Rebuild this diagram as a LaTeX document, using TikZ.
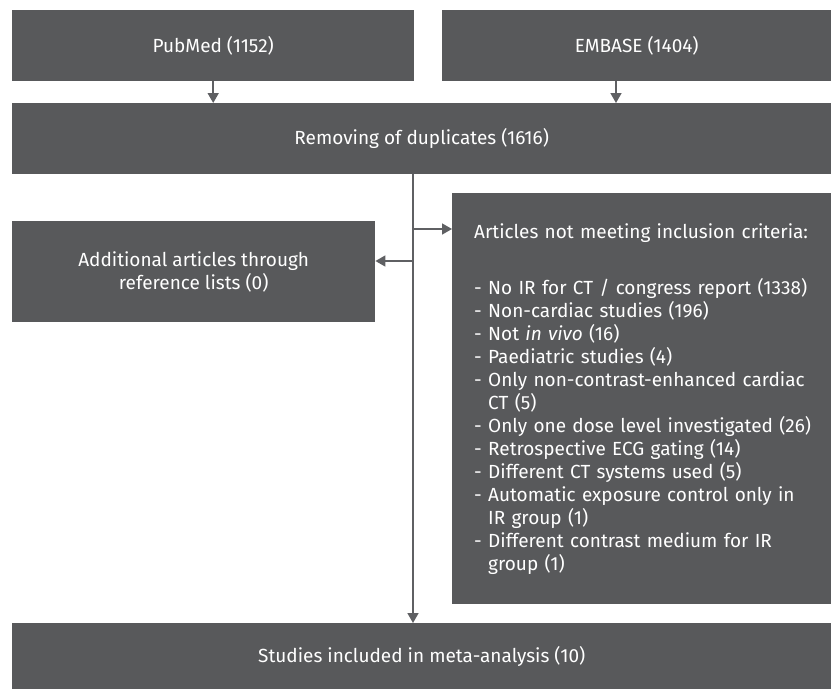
\documentclass[tikz,border=0pt]{standalone}
\usepackage{fontspec}
\setmainfont{Fira Sans}
\usepackage{tikz}
\usetikzlibrary{arrows.meta}
\definecolor{boxgray}{HTML}{58595B}
\definecolor{linegray}{HTML}{5F6063}

\begin{document}
\begin{tikzpicture}[x = 1pt, y = -1pt,
    box/.style = {fill = boxgray, text = white, inner sep = 0pt, anchor = north west, font = \fontsize{19}{23}\selectfont},
    flow/.style = {draw = linegray, line width = 1.6pt, -{Triangle[length = 10pt, width = 11pt]}}]
      \useasboundingbox (0,0) rectangle (831,689);
      \node[box, minimum width = 402pt, minimum height = 71pt] (pubmed) at (12,10) {PubMed (1152)};
      \node[box, minimum width = 389pt, minimum height = 71pt] (embase) at (442,10) {EMBASE (1404)};
      \node[box, minimum width = 819pt, minimum height = 71pt] (dupl) at (12,103) {Removing of duplicates (1616)};
      \node[box, minimum width = 363pt, minimum height = 101pt, align = center] (addl) at (12,221)
        {Additional articles through\\ reference lists (0)};
      \node[box, minimum width = 379pt, minimum height = 411pt, text width = 357pt, inner xsep = 22pt, align = left] (excl) at (452,193)
        {Articles not meeting inclusion criteria:\\[33pt]
         - No IR for CT / congress report (1338)\\
         - Non-cardiac studies (196)\\
         - Not \textit{in vivo} (16)\\
         - Paediatric studies (4)\\
         - Only non-contrast-enhanced cardiac\\
         \hphantom{-}\ CT (5)\\
         - Only one dose level investigated (26)\\
         - Retrospective ECG gating (14)\\
         - Different CT systems used (5)\\
         - Automatic exposure control only in\\
         \hphantom{-}\ IR group (1)\\
         - Different contrast medium for IR\\
         \hphantom{-}\ group (1)};
      \node[box, minimum width = 819pt, minimum height = 66pt] (final) at (12,623) {Studies included in meta-analysis (10)};
      \coordinate (split) at (413,229);
      \coordinate (back) at (413,261);
      \coordinate (emb) at (616,81);
      \draw[flow] (pubmed.south) -- (pubmed.south |- dupl.north);
      \draw[flow] (emb) -- (emb |- dupl.north);
      \draw[flow] (dupl.south -| split) -- (final.north -| split);
      \draw[flow] (split) -- (split -| excl.west);
      \draw[flow] (back) -- (back -| addl.east);
    \end{tikzpicture}
\end{document}
